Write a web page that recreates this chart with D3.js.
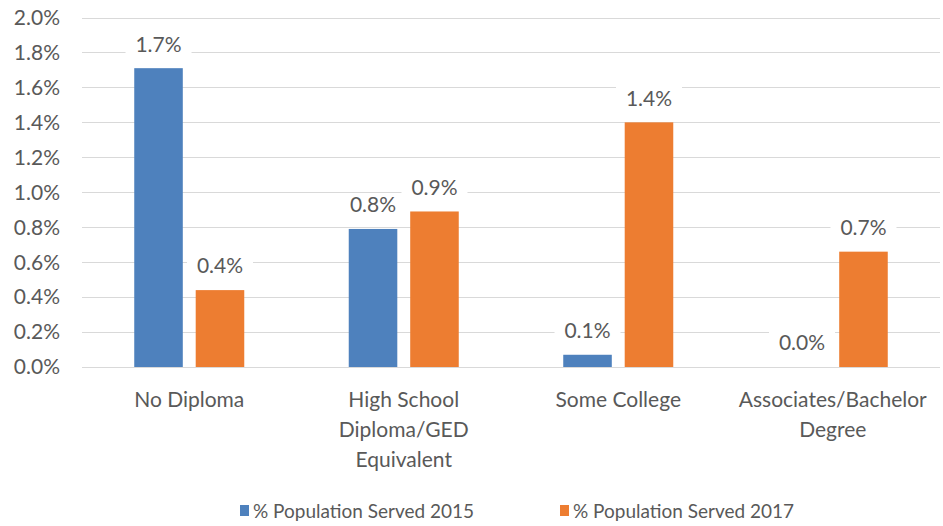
<!DOCTYPE html>
<html lang="en">
<head>
  <meta charset="utf-8">
  <title>Population Served by Education</title>
  <script src="https://cdn.jsdelivr.net/npm/d3@7"></script>
  <style>
    body { margin: 0; background: #fff; }
    text { font-family: Lato, "Liberation Sans", sans-serif; fill: #595959; }
  </style>
</head>
<body>
  <script>
    // data
    const categories = ["No Diploma", "High School Diploma/GED Equivalent", "Some College", "Associates/Bachelor Degree"];
    const categoryLines = [["No Diploma"], ["High School", "Diploma/GED", "Equivalent"], ["Some College"], ["Associates/Bachelor", "Degree"]];
    const seriesNames = ["% Population Served 2015", "% Population Served 2017"];
    const served2015 = [1.71, 0.79, 0.07, 0.0];
    const served2017 = [0.44, 0.89, 1.40, 0.66];
    const yTicks = [0, 0.2, 0.4, 0.6, 0.8, 1.0, 1.2, 1.4, 1.6, 1.8, 2.0];
    const colors = ["#4e81bd", "#ed7d31"];

    //config
    const width = 943, height = 526;
    const margin = { top: 17.5, right: 3, bottom: 159, left: 82 };
    const innerHeight = height - margin.top - margin.bottom;

    const svg = d3.select("body").append("svg")
      .attr("width", width).attr("height", height);

    const x0 = d3.scaleBand().domain(categories)
      .range([margin.left, width - margin.right]).padding(0);
    const x1 = d3.scaleBand().domain(seriesNames)
      .range([0, x0.bandwidth()]).paddingInner(0.21).paddingOuter(0.85);
    const y = d3.scaleLinear().domain([0, 2.0])
      .range([margin.top + innerHeight, margin.top]);

    // gridlines
    svg.append("g").selectAll("line").data(yTicks).join("line")
      .attr("x1", margin.left).attr("x2", width - margin.right)
      .attr("y1", d => Math.round(y(d)) + 0.5).attr("y2", d => Math.round(y(d)) + 0.5)
      .attr("stroke", "#d9d9d9").attr("stroke-width", 1.2);

    // y axis labels
    svg.append("g").selectAll("text").data(yTicks).join("text")
      .attr("x", 60).attr("y", d => y(d))
      .attr("dy", "0.35em").attr("text-anchor", "end")
      .style("font-size", "21px")
      .text(d => d.toFixed(1) + "%");

    const rows = categories.map((c, i) => ({ cat: c, vals: [served2015[i], served2017[i]] }));

    const groups = svg.append("g").selectAll("g").data(rows).join("g")
      .attr("transform", d => `translate(${x0(d.cat)},0)`);

    // bars
    groups.selectAll("rect.bar")
      .data(d => d.vals.map((v, j) => ({ s: seriesNames[j], v: v, j: j })))
      .join("rect").attr("class", "bar")
      .attr("x", d => x1(d.s)).attr("width", x1.bandwidth())
      .attr("y", d => y(d.v)).attr("height", d => y(0) - y(d.v))
      .attr("fill", d => colors[d.j]);

    // data labels with white box behind
    const labels = groups.selectAll("g.lab")
      .data(d => d.vals.map((v, j) => ({ s: seriesNames[j], v: v, j: j })))
      .join("g").attr("class", "lab")
      .attr("transform", d => `translate(${x1(d.s) + x1.bandwidth() / 2},${y(d.v) - 24})`);
    labels.append("rect")
      .attr("x", -33).attr("y", -12).attr("width", 66).attr("height", 24)
      .attr("fill", "#fff");
    labels.append("text")
      .attr("text-anchor", "middle").attr("dy", "0.35em")
      .style("font-size", "21px")
      .text(d => d.v.toFixed(1) + "%");

    // category labels
    const catText = svg.append("g").selectAll("text").data(categories).join("text")
      .attr("x", d => x0(d) + x0.bandwidth() / 2).attr("y", 407)
      .attr("text-anchor", "middle")
      .style("font-size", "21px");
    catText.selectAll("tspan").data((d, i) => categoryLines[i]).join("tspan")
      .attr("x", function () { return d3.select(this.parentNode).attr("x"); })
      .attr("dy", (d, k) => k === 0 ? 0 : 30)
      .text(d => d);

    // legend
    const legendX = [240, 560];
    const legend = svg.append("g").selectAll("g").data(seriesNames).join("g")
      .attr("transform", (d, i) => `translate(${legendX[i]},511)`);
    legend.append("rect")
      .attr("x", 0).attr("y", -6).attr("width", 9).attr("height", 11)
      .attr("fill", (d, i) => colors[i]);
    legend.append("text")
      .attr("x", 13).attr("dy", "0.35em")
      .style("font-size", "19px")
      .text(d => d);
  </script>
</body>
</html>
